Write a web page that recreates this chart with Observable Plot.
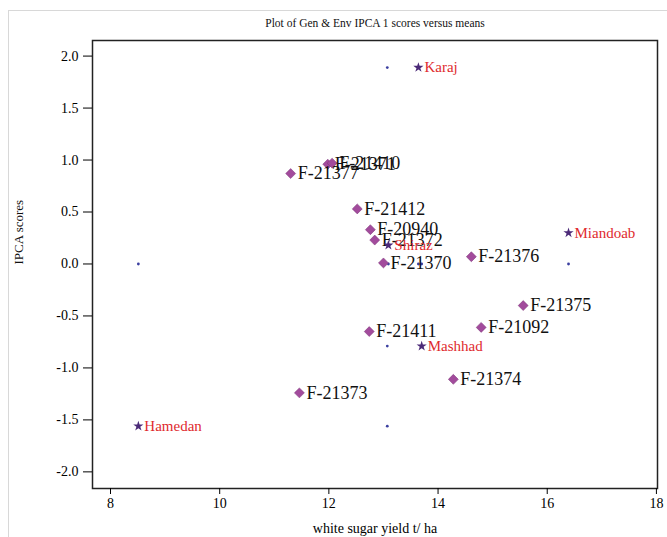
<!DOCTYPE html>
<html>
<head>
<meta charset="utf-8">
<script src="https://cdn.jsdelivr.net/npm/d3@7"></script>
<script src="https://cdn.jsdelivr.net/npm/@observablehq/plot@0.6"></script>
<style>
  body { margin: 0; background: #fff; }
  #wrap { position: relative; width: 667px; height: 537px; }
  #border { position: absolute; left: 8px; top: 10px; width: 670px; height: 540px; border: 1px solid #d8d8d8; box-sizing: border-box; }
  #chart { position: absolute; left: 0; top: 0; }
</style>
</head>
<body>
<div id="wrap"><div id="border"></div><div id="chart"></div></div>
<script>
// Genotypes
const genNames = ["F-21377", "F-21371", "F-21410", "F-21412", "F-20940", "F-21372", "F-21370", "F-21376", "F-21375", "F-21092", "F-21411", "F-21374", "F-21373"];
const genMeans = [11.30, 11.98, 12.06, 12.52, 12.76, 12.84, 13.00, 14.61, 15.56, 14.79, 12.74, 14.28, 11.46];
const genIPCA  = [0.87, 0.96, 0.97, 0.53, 0.33, 0.23, 0.01, 0.07, -0.40, -0.61, -0.65, -1.11, -1.24];

// Environments
const envNames = ["Karaj", "Shiraz", "Miandoab", "Mashhad", "Hamedan"];
const envMeans = [13.64, 13.09, 16.39, 13.70, 8.51];
const envIPCA  = [1.89, 0.18, 0.30, -0.79, -1.56];

// Small blue reference dots
const dotX = [13.07, 13.07, 13.07, 8.51, 13.09, 13.64, 13.70, 16.39];
const dotY = [1.89, -0.79, -1.56, 0, 0, 0, 0, 0];

const xTicks = [8, 10, 12, 14, 16, 18];
const yTicks = [-2.0, -1.5, -1.0, -0.5, 0.0, 0.5, 1.0, 1.5, 2.0];

const gen = genNames.map((n, i) => ({name: n, x: genMeans[i], y: genIPCA[i]}));
const env = envNames.map((n, i) => ({name: n, x: envMeans[i], y: envIPCA[i]}));
const dots = dotX.map((x, i) => ({x, y: dotY[i]}));

const serif = "'Liberation Serif', 'DejaVu Serif', serif";

const chart = Plot.plot({
  width: 667,
  height: 537,
  marginTop: 40,
  marginLeft: 92,
  marginRight: 10,
  marginBottom: 49,
  style: {fontFamily: serif, background: "transparent", overflow: "visible"},
  x: {domain: [7.67, 18.02]},
  y: {domain: [-2.16, 2.15]},
  marks: [
    Plot.frame({stroke: "#222", strokeWidth: 1.5}),
    Plot.axisX({ticks: xTicks, tickSize: 6, tickPadding: 4, fontSize: 14, tickFormat: d => d,
      label: "white sugar yield t/ ha", labelAnchor: "center", labelArrow: "none", labelOffset: 44}),
    Plot.axisY({ticks: yTicks, tickSize: 9, tickPadding: 5, fontSize: 14, tickFormat: d => d.toFixed(1),
      label: null}),
    Plot.text(["IPCA scores"], {frameAnchor: "left", dx: -74, rotate: -90, fontSize: 13, fill: "#111"}),
    Plot.text(["Plot of Gen & Env IPCA 1 scores versus means"], {frameAnchor: "top", dy: -22, fontSize: 11.5, fill: "#111"}),
    Plot.dot(dots, {x: "x", y: "y", r: 1.4, fill: "#3b3fa0"}),
    Plot.dot(gen, {x: "x", y: "y", symbol: "diamond2", r: 4.5, fill: "#a24b9c", stroke: "#7a3276", strokeWidth: 0.5}),
    Plot.text(gen, {x: "x", y: "y", text: "name", textAnchor: "start", dx: 7, fontSize: 18, fill: "#111", letterSpacing: "1px"}),
    Plot.dot(env, {x: "x", y: "y", symbol: "star", r: 3.2, fill: "#4b2a78"}),
    Plot.text(env, {x: "x", y: "y", text: "name", textAnchor: "start", dx: 6, fontSize: 15, fill: "#e02a2e"})
  ]
});
document.getElementById("chart").appendChild(chart);
</script>
</body>
</html>
